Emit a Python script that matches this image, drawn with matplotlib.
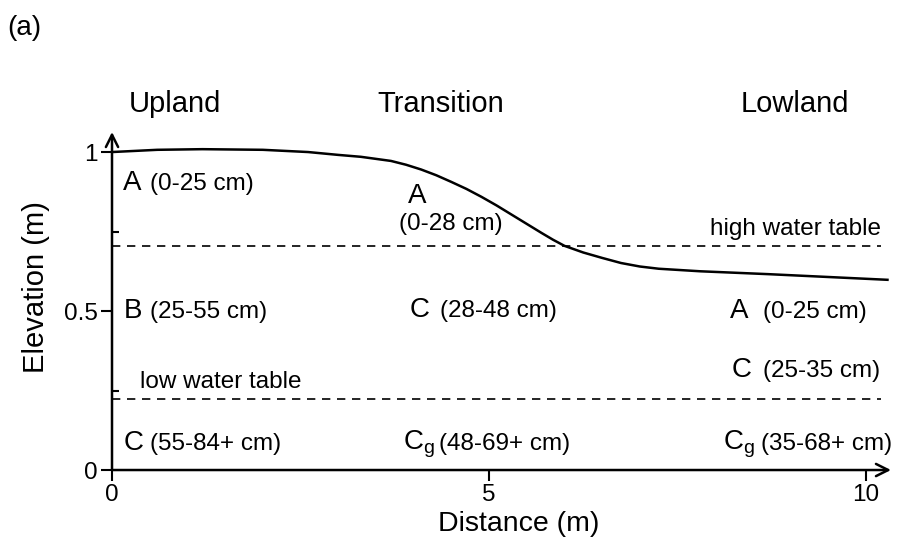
import matplotlib
matplotlib.use("Agg")
import matplotlib.pyplot as plt

plt.rcParams.update({
    "font.family": "Liberation Sans",
    "mathtext.fontset": "custom",
    "mathtext.rm": "Liberation Sans",
    "mathtext.it": "Liberation Sans",
})

# ground surface profile (distance m, elevation m)
surface_x = [0, 0.6, 1.2, 2.0, 2.6, 3.0, 3.3, 3.7, 3.9, 4.1, 4.3, 4.5, 4.7,
             4.9, 5.1, 5.3, 5.5, 5.7, 5.85, 6.0, 6.25, 6.5, 6.75, 7.0, 7.25,
             7.8, 8.7, 9.5, 10.3]
surface_y = [1.0, 1.007, 1.009, 1.007, 1.0, 0.991, 0.985, 0.972, 0.960,
             0.945, 0.927, 0.906, 0.884, 0.859, 0.832, 0.803, 0.774, 0.745,
             0.724, 0.705, 0.684, 0.667, 0.651, 0.640, 0.633, 0.625, 0.616,
             0.607, 0.598]

# water tables
high_wt = 0.705
low_wt = 0.223
wt_end = 10.2

zones = ["Upland", "Transition", "Lowland"]

# soil horizons: letter, depth range
horizons = ["A", "B", "C", "A", "C", "C$_{\\mathregular{g}}$", "A", "C",
            "C$_{\\mathregular{g}}$"]
depths = ["(0-25 cm)", "(25-55 cm)", "(55-84+ cm)",
          "(0-28 cm)", "(28-48 cm)", "(48-69+ cm)",
          "(0-25 cm)", "(25-35 cm)", "(35-68+ cm)"]

# label placement (data coords): letter x, baseline y, depth x, depth y
let_x = [0.15, 0.15, 0.15, 3.93, 3.95, 3.86, 8.2, 8.22, 8.1]
let_y = [0.881, 0.478, 0.063, 0.84, 0.481, 0.063, 0.478, 0.292, 0.063]
dep_x = [0.50, 0.50, 0.51, 3.8, 4.35, 4.33, 8.63, 8.63, 8.6]
dep_y = [0.881, 0.478, 0.063, 0.755, 0.481, 0.063, 0.478, 0.292, 0.063]

fig = plt.figure(figsize=(9.04, 5.43), dpi=100)
ax = fig.add_axes([0.1239, 0.1344, 0.8617, 0.6225])
ax.set_xlim(0, 10.33)
ax.set_ylim(0, 1.063)
for s in ax.spines.values():
    s.set_visible(False)

# axes drawn as arrows
arrow = dict(arrowstyle="->", lw=1.8, color="black", mutation_scale=22,
             shrinkA=0, shrinkB=0)
ax.annotate("", xy=(1, 0), xytext=(0, 0), xycoords="axes fraction", arrowprops=arrow)
ax.annotate("", xy=(0, 1), xytext=(0, 0), xycoords="axes fraction", arrowprops=arrow)

ax.plot(surface_x, surface_y, color="black", lw=1.8, clip_on=False,
        solid_capstyle="butt", solid_joinstyle="round")
ax.plot([0, wt_end], [high_wt, high_wt], color="black", lw=1.2,
        ls=(0, (5, 4)))
ax.plot([0, wt_end], [low_wt, low_wt], color="black", lw=1.2,
        ls=(0, (5, 4)))

ax.text(wt_end, 0.739, "high water table", ha="right", va="baseline",
        fontsize=17.5)
ax.text(0.37, 0.258, "low water table", ha="left", va="baseline",
        fontsize=17.5)

for i in range(len(horizons)):
    ax.text(let_x[i], let_y[i], horizons[i], fontsize=20, ha="left",
            va="baseline")
    ax.text(dep_x[i], dep_y[i], depths[i], fontsize=17.5, ha="left",
            va="baseline")

for name, xc in zip(zones, [0.84, 4.36, 9.06]):
    ax.text(xc, 1.151, name, fontsize=21, ha="center", va="center",
            clip_on=False)

ax.set_xticks([0, 5, 10])
ax.set_xticklabels(["0", "5", "10"])
ax.set_yticks([0, 0.5, 1])
ax.set_yticklabels(["0", "0.5", "1"])
ax.set_yticks([0.25, 0.75], minor=True)
ax.tick_params(axis="both", which="major", direction="out", length=8,
               width=1.5, labelsize=17.5, pad=2)
ax.tick_params(axis="y", which="minor", direction="in", length=5, width=1.5)

ax.set_xlabel("Distance (m)", fontsize=20.5)
ax.xaxis.set_label_coords(0.522, -0.12)
ax.set_ylabel("Elevation (m)", fontsize=21)
ax.yaxis.set_label_coords(-0.08, 0.54)

fig.text(0.008, 0.948, "(a)", fontsize=20, ha="left", va="center")

fig.savefig("out.png", dpi=100)
